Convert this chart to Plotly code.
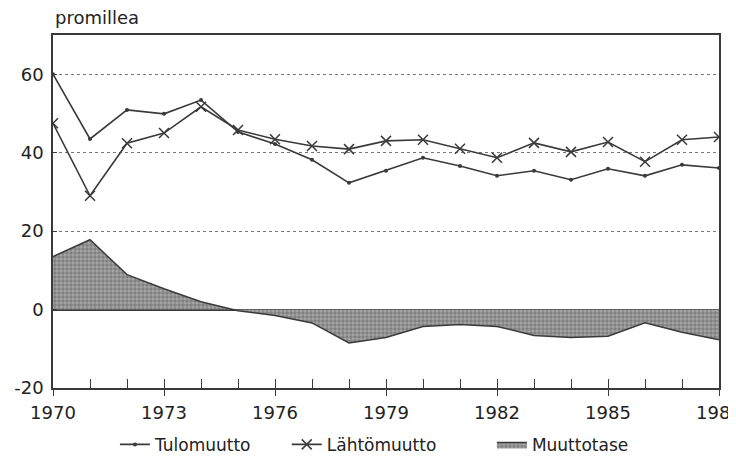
import plotly.graph_objects as go

years = list(range(1970, 1989))
tulomuutto = [60.0, 43.5, 50.9, 49.9, 53.4, 45.3, 42.2, 38.2, 32.3, 35.4, 38.7, 36.6, 34.1, 35.4, 33.1, 35.9, 34.1, 36.9, 36.1]
lahtomuutto = [47.5, 29.0, 42.4, 45.0, 51.7, 45.8, 43.4, 41.7, 40.9, 43.0, 43.3, 41.0, 38.7, 42.5, 40.2, 42.7, 37.7, 43.3, 44.0]
muuttotase = [13.5, 17.8, 8.9, 5.3, 2.0, -0.3, -1.5, -3.4, -8.5, -7.1, -4.3, -3.8, -4.3, -6.6, -7.1, -6.8, -3.4, -5.8, -7.7]
y_ticks = [-20, 0, 20, 40, 60]
y_tick_labels = ["-20", "0", "20", "40", "60"]
x_label_years = [1970, 1973, 1976, 1979, 1982, 1985, 1988]

ink = "#3a3a3a"
font = "DejaVu Sans, Verdana, sans-serif"

fig = go.Figure()
fig.add_trace(go.Scatter(
    x=years, y=tulomuutto, name="Tulomuutto", mode="lines+markers",
    line=dict(color=ink, width=1.6), marker=dict(symbol="circle", size=4, color=ink),
    legend="legend",
))
fig.add_trace(go.Scatter(
    x=years, y=lahtomuutto, name="Lähtömuutto", mode="lines+markers",
    line=dict(color=ink, width=1.6),
    marker=dict(symbol="x-thin-open", size=10, color=ink, line=dict(width=1.5, color=ink)),
    legend="legend2",
))
fig.add_trace(go.Scatter(
    x=years, y=muuttotase, name="Muuttotase", mode="lines",
    fill="tozeroy", line=dict(color=ink, width=1.5),
    fillcolor="#888888",
    fillpattern=dict(shape=".", size=4, solidity=0.6, fgcolor="#5a5a5a", bgcolor="#a6a6a6"),
    legend="legend3",
))
# overlay axis for outside major tick marks
fig.add_trace(go.Scatter(x=[years[0]], y=[0], xaxis="x2", mode="markers",
                         marker=dict(opacity=0), showlegend=False, hoverinfo="skip"))

leg_common = dict(orientation="h", yref="container", y=0.042, xanchor="left", yanchor="middle",
                  font=dict(size=17, color="#222"), itemwidth=30, bgcolor="rgba(0,0,0,0)")

fig.update_layout(
    width=720, height=456,
    margin=dict(l=45, r=9, t=27, b=76),
    paper_bgcolor="white", plot_bgcolor="white",
    font=dict(family=font, size=16, color="#222"),
    showlegend=True,
    legend=dict(x=0.093, **leg_common),
    legend2=dict(x=0.351, **leg_common),
    legend3=dict(x=0.659, **leg_common),
    xaxis=dict(
        range=[1970, 1988], tickvals=years,
        ticktext=[str(y) if y in x_label_years else "" for y in years],
        ticks="inside", ticklen=9, tickwidth=1.2, tickcolor=ink,
        showline=True, linecolor=ink, linewidth=1.5, mirror=True,
        showgrid=False, zeroline=False, tickfont=dict(size=18),
        ticklabelstandoff=8, ticklabeloverflow="allow", automargin=False,
    ),
    xaxis2=dict(
        range=[1970, 1988], overlaying="x", tickvals=x_label_years,
        ticks="outside", ticklen=7, tickwidth=1.2, tickcolor=ink,
        showticklabels=False, showgrid=False, zeroline=False, showline=False,
        side="bottom", automargin=False,
    ),
    yaxis=dict(
        range=[-20, 70], tickvals=y_ticks, ticktext=y_tick_labels,
        ticks="inside", ticklen=4, tickcolor=ink,
        showline=True, linecolor=ink, linewidth=1.5, mirror=True,
        showgrid=True, gridcolor="#777", griddash="dot", gridwidth=1,
        zeroline=True, zerolinecolor=ink, zerolinewidth=1.5,
        tickfont=dict(size=18), ticklabelstandoff=4, automargin=False,
    ),
    annotations=[dict(text="promillea", xref="paper", yref="paper", x=0, y=1.05,
                      xanchor="left", yanchor="middle", showarrow=False,
                      font=dict(size=18, color="#222"))],
)

fig.write_html("out.html")
